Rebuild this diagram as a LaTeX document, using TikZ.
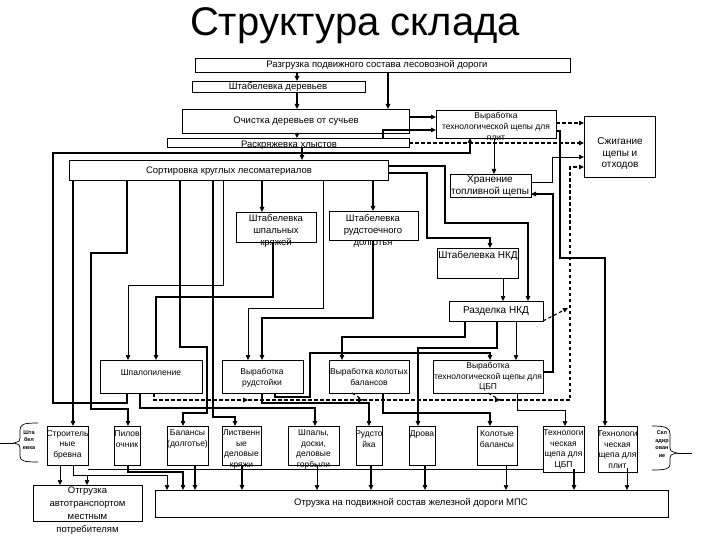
\documentclass[tikz,border=0pt]{standalone}
\usepackage{fontspec}
\setmainfont{Liberation Sans}
\usetikzlibrary{arrows.meta}
\newcommand\bx[5]{\node[box, minimum width=#4pt, minimum height=#5pt] (#1) at (#2,#3) {};}
\begin{document}
\begin{tikzpicture}[x=1pt,y=-1pt,
  box/.style={draw, line width=0.8pt, inner sep=0pt, outer sep=0pt, anchor=north west},
  txt/.style={inner sep=0pt, align=center, font=\fontsize{8.5}{10.5}\selectfont},
  txtb/.style={inner sep=0pt, align=center, font=\fontsize{9.5}{11}\selectfont},
  txtc/.style={inner sep=0pt, align=center, font=\fontsize{10}{11.5}\selectfont},
  tiny/.style={inner sep=0pt, align=center, font=\fontsize{5.5}{7.5}\selectfont\bfseries},
  thn/.style={line width=0.7pt},
  thk/.style={line width=1.6pt},
  dsh/.style={line width=1.1pt, dash pattern=on 3.5pt off 2.5pt},
  arr/.style={-{Triangle[length=5pt,width=4.5pt]}}]
\fill[white] (0,0) rectangle (720,540);
\useasboundingbox (0,0) rectangle (720,540);
\node[inner sep=0pt, font=\fontsize{40}{44}\selectfont] (title) at (355,26) {Структура склада};
% boxes
\bx{raz}{195}{58}{375}{14}
\bx{sht}{192}{81}{173}{11}
\bx{och}{182}{109}{227}{24}
\bx{ras}{167}{138}{242}{9}
\bx{vyp}{436}{110}{120}{28}
\bx{szh}{584}{116}{71}{61}
\bx{khr}{450}{174}{81}{23}
\bx{sort}{69}{160}{319}{20}
\bx{shk}{236}{212}{80}{30}
\bx{shr}{329}{211}{89}{29}
\bx{nkd}{437}{248}{81}{30}
\bx{raz2}{449}{301}{94}{20}
\bx{shp}{100}{360}{102}{33}
\bx{rud}{222}{360}{81}{33}
\bx{kol}{329}{360}{80}{33}
\bx{cbp}{433}{360}{110}{33}
\bx{str}{47}{426}{41}{39}
\bx{pil}{114}{426}{26}{39}
\bx{bal}{167}{426}{41}{39}
\bx{lis}{222}{426}{39}{39}
\bx{shpa}{288}{426}{51}{39}
\bx{rdk}{356}{426}{26}{39}
\bx{drv}{409}{426}{26}{39}
\bx{kb}{477}{426}{40}{39}
\bx{tcbp}{543}{426}{41}{46}
\bx{tpl}{598}{426}{39}{46}
\bx{otga}{33}{485}{109}{36}
\bx{main}{155}{490}{513}{27}
% texts
\node[txtb] (t-raz) at (377,65) {Разгрузка подвижного состава лесовозной дороги};
\node[txtb] (t-sht) at (278,87) {Штабелевка деревьев};
\node[txtb] (t-och) at (296,121) {Очистка деревьев от сучьев};
\node[txtb] (t-ras) at (289,145) {Раскряжевка хлыстов};
\node[txt, font=\fontsize{8.5}{11}\selectfont] (t-vyp) at (496,126) {Выработка\\технологической щепы для\\плит};
\node[txtc] (t-szh) at (620,154) {Сжигание\\щепы и\\отходов};
\node[txtc] (t-khr) at (490,186) {Хранение\\топливной щепы};
\node[txtb] (t-sort) at (229,171) {Сортировка круглых лесоматериалов};
\node[txtb, font=\fontsize{9.5}{12}\selectfont] (t-shk) at (276,231) {Штабелевка\\шпальных\\кряжей};
\node[txtb, font=\fontsize{9.5}{12}\selectfont] (t-shr) at (373,231) {Штабелевка\\рудстоечного\\долготья};
\node[txtc] (t-nkd) at (478,256) {Штабелевка НКД};
\node[txtc] (t-raz2) at (496,311) {Разделка НКД};
\node[txt] (t-shp) at (151,373) {Шпалопиление};
\node[txt] (t-rud) at (262,378) {Выработка\\рудстойки};
\node[txt] (t-kol) at (369,377) {Выработка колотых\\балансов};
\node[txt] (t-cbp) at (488,377) {Выработка\\технологической щепы для\\ЦБП};
\node[txt] (t-str) at (67.5,444.5) {Строитель\\ные\\бревна};
\node[txt] (t-pil) at (127,439) {Пилов\\очник};
\node[txt] (t-bal) at (187.5,439) {Балансы\\(долготье)};
\node[txt] (t-lis) at (241.5,449.5) {Лиственн\\ые\\деловые\\кряжи};
\node[txt] (t-shpa) at (313.5,449.5) {Шпалы,\\доски,\\деловые\\горбыли};
\node[txt] (t-rdk) at (369,439) {Рудсто\\йка};
\node[txt] (t-drv) at (422,434) {Дрова};
\node[txt] (t-kb) at (497,439) {Колотые\\балансы};
\node[txt] (t-tcbp) at (563.5,449.5) {Технологи\\ческая\\щепа для\\ЦБП};
\node[txt] (t-tpl) at (617.5,449.5) {Технологи\\ческая\\щепа для\\плит};
\node[txtb, font=\fontsize{9.5}{13}\selectfont] (t-otga) at (87.5,510.5) {Отгрузка\\автотранспортом\\местным\\потребителям};
\node[txtb] (t-main) at (411,503) {Отрузка на подвижной состав железной дороги МПС};
\node[tiny] (t-bl) at (29,440) {Шта\\бел\\евка};
\node[tiny] (t-br) at (662,444) {Скл\\адир\\ован\\ие};
% braces
\coordinate (bl) at (14,443);
\coordinate (br) at (677,453);
\coordinate (blend) at (0,443);
\coordinate (brend) at (692,453);
\draw[thn] (38,423) .. controls (24,423) and (20,424) .. (20,430) -- (20,438) .. controls (20,441) .. (bl) .. controls (20,445) .. (20,448) -- (20,456) .. controls (20,461) and (24,462) .. (38,462);
\draw[thn] (blend) -- (bl);
\draw[thn] (652,426) .. controls (666,426) and (670,428) .. (670,434) -- (670,448) .. controls (670,451) .. (br) .. controls (670,455) .. (670,458) -- (670,464) .. controls (670,469) and (666,470) .. (652,470);
\draw[thn] (br) -- (brend);
% top connectors
\draw[thk,arr] (raz.south -| 297,0) -- (sht.north -| 297,0);
\draw[thk,arr] (sht.south -| 297,0) -- (och.north -| 297,0);
\draw[thk,arr] (raz.south -| 388,0) -- (och.north -| 388,0);
\draw[thk,arr] (och.east |- 0,117) -- (vyp.west |- 0,117);
\draw[thk,arr] (och.south -| 297,0) -- (ras.north -| 297,0);
\draw[thk,arr] (ras.north -| 383,0) |- (vyp.west |- 0,130);
\draw[thk,arr] (ras.south -| 302,0) -- (sort.north -| 302,0);
\draw[dsh,arr] (ras.east |- 0,143) -- (szh.west |- 0,143);
\draw[dsh,arr] (vyp.east |- 0,123) -- (szh.west |- 0,123);
\draw[thn,arr] (vyp.south -| 494,0) -- (khr.north -| 494,0);
\draw[thn,arr] (khr.east |- 0,182) -| (552,157) -- (szh.west |- 0,157);
\draw[thk,arr] (cbp.east |- 0,372) -| (553,194) -- (khr.east |- 0,194);
\draw[thk,arr] (vyp.east |- 0,131) -| (560,258) -| (tpl.north -| 605,0);
\draw[thk,arr] (shp.south -| 127,0) |- (53,403) |- (470,153) -- (vyp.south -| 470,0);
% from sorting
\draw[thk,arr] (sort.south -| 73,0) -- (str.north -| 73,0);
\draw[thk,arr] (sort.south -| 127,0) |- (91,253) |- (128,409) -- (pil.north -| 128,0);
\draw[thk,arr] (sort.south -| 180,0) |- (207,347) |- (183,413) -- (bal.north -| 183,0);
\draw[thk,arr] (sort.south -| 213,0) |- (235,417) -- (lis.north -| 235,0);
\draw[thn,arr] (sort.south -| 223,0) |- (128,285) -- (shp.north -| 128,0);
\draw[thk,arr] (sort.south -| 262,0) -- (shk.north -| 262,0);
\draw[thk,arr] (shk.south -| 273,0) |- (156,297) -- (shp.north -| 156,0);
\draw[thn,arr] (sort.south -| 323,0) |- (248,308) -- (rud.north -| 248,0);
\draw[thk,arr] (sort.south -| 373,0) -- (shr.north -| 373,0);
\draw[thk,arr] (shr.south -| 373,0) |- (262,318) -- (rud.north -| 262,0);
\draw[thk,arr] (sort.east |- 0,173) -| (427,238) -| (nkd.north -| 490,0);
\draw[thk,arr] (sort.east |- 0,166) -| (445,223) -| (raz2.north -| 528,0);
\draw[thn,arr] (nkd.south -| 503,0) -- (raz2.north -| 503,0);
\draw[thk,arr] (raz2.south -| 465,0) |- (342,337) -- (kol.north -| 342,0);
\draw[thk,arr] (raz2.south -| 497,0) |- (418,348) -- (drv.north -| 418,0);
\draw[thn,arr] (raz2.south -| 516,0) -- (cbp.north -| 516,0);
\draw[thk,arr] (rud.south -| 275,0) |- (310,397) |- (490,353) -- (cbp.north -| 490,0);
\draw[thk,arr] (rud.south -| 262,0) |- (369,403) -- (rdk.north -| 369,0);
\draw[thk,arr] (shp.south -| 140,0) |- (315,408) -- (shpa.north -| 315,0);
\draw[thk,arr] (kol.south -| 383,0) |- (490,413) -- (kb.north -| 490,0);
\draw[thn,arr] (cbp.south -| 517,0) |- (565,410) -- (tcbp.north -| 565,0);
% dashed waste lines
\coordinate (d1) at (248,400);
\coordinate (d2) at (363,400);
\coordinate (d3) at (500,400);
\coordinate (d4) at (568,308);
\draw[dsh,arr] (shp.south -| 154,0) |- (d1);
\draw[dsh,arr] (d1) -- (d2);
\draw[dsh,arr] (d2) -- (d3);
\draw[dsh,arr] (d3) -| (570,167) -- (szh.west |- 0,167);
\draw[dsh] (kol.south -| 352,0) -- (d2);
\draw[dsh] (cbp.south -| 488,0) -- (d3);
\draw[dsh,arr] (raz2.south east) -- (d4);
% bottom
\coordinate (s1) at (87,475);
\draw[thn,arr] (str.south -| 60,0) -- (otga.north -| 60,0);
\draw[thn,arr] (str.south -| 73,0) |- (s1) -- (otga.north -| 87,0);
\draw[thn,arr] (s1) -| (main.north -| 167,0);
\draw[thn] (str.south east |- 0,469) -- (tcbp.west |- 0,469);
\draw[thk,arr] (pil.south -| 128,0) |- (183,472) -- (main.north -| 183,0);
\draw[thk,arr] (bal.south -| 195,0) -- (main.north -| 195,0);
\draw[thk,arr] (lis.south -| 242,0) -- (main.north -| 242,0);
\draw[thn,arr] (shpa.south -| 317,0) -- (main.north -| 317,0);
\draw[thk,arr] (rdk.south -| 371,0) -- (main.north -| 371,0);
\draw[thk,arr] (drv.south -| 425,0) -- (main.north -| 425,0);
\draw[thn,arr] (kb.south -| 506,0) -- (main.north -| 506,0);
\draw[thk,arr] (t-tcbp.south -| 574,0) -- (main.north -| 574,0);
\draw[thn,arr] (t-tpl.south -| 627,0) -- (main.north -| 627,0);
\end{tikzpicture}
\end{document}
